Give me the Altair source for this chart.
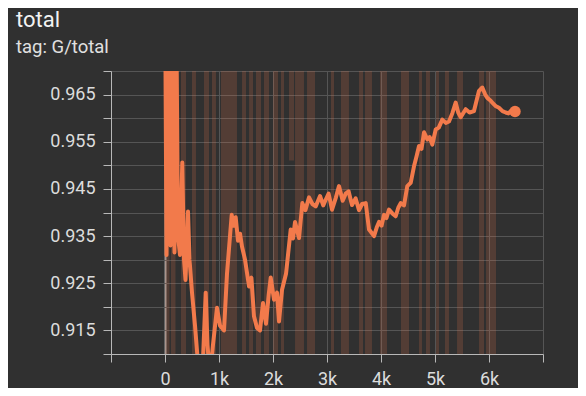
import altair as alt
import pandas as pd

# Smoothed series (step, value); values above 0.97 / below 0.91 are clipped
smooth_step = [0, 28, 56, 102, 130, 176, 204, 241, 278, 320, 352, 380, 426, 454, 500, 556, 611, 648,
               704, 754, 787, 833, 889, 963, 1019, 1093, 1148, 1235, 1270, 1309, 1352, 1390, 1426,
               1482, 1556, 1600, 1648, 1704, 1759, 1815, 1870, 1920, 1958, 2019, 2074, 2111, 2167,
               2241, 2328, 2370, 2408, 2482, 2543, 2600, 2667, 2730, 2791, 2871, 2930, 2976, 3030,
               3093, 3160, 3222, 3290, 3347, 3400, 3463, 3530, 3593, 3650, 3717, 3778, 3871, 3920,
               3963, 4010, 4056, 4100, 4148, 4210, 4272, 4320, 4365, 4426, 4487, 4550, 4611, 4660,
               4704, 4750, 4797, 4858, 4900, 4950, 5013, 5070, 5135, 5200, 5259, 5320, 5383, 5430,
               5476, 5568, 5640, 5722, 5815, 5876, 5930, 5969, 6020, 6061, 6120, 6185, 6250, 6310,
               6360, 6402, 6482]
smooth_value = [0.99, 0.931, 0.99, 0.933, 0.99, 0.9315, 0.99, 0.935, 0.931, 0.9506, 0.930, 0.9257,
                0.9402, 0.930, 0.923, 0.916, 0.908, 0.905, 0.909, 0.923, 0.912, 0.905, 0.912, 0.9198,
                0.916, 0.915, 0.927, 0.9395, 0.9372, 0.939, 0.934, 0.9355, 0.9328, 0.930, 0.9243,
                0.9262, 0.918, 0.9155, 0.915, 0.9208, 0.9164, 0.9225, 0.9262, 0.9215, 0.923, 0.9169,
                0.9236, 0.927, 0.9364, 0.9345, 0.938, 0.9346, 0.942, 0.9405, 0.9432, 0.9418, 0.9413,
                0.9435, 0.9415, 0.9427, 0.9440, 0.9406, 0.9430, 0.9456, 0.9425, 0.944, 0.9445, 0.9416,
                0.9430, 0.9405, 0.9418, 0.942, 0.9364, 0.935, 0.9368, 0.938, 0.9372, 0.9395, 0.9388,
                0.9406, 0.9398, 0.9392, 0.9410, 0.942, 0.9415, 0.9456, 0.9463, 0.9498, 0.9520, 0.9541,
                0.9535, 0.957, 0.9555, 0.9560, 0.9544, 0.9576, 0.9580, 0.9597, 0.9590, 0.9593, 0.9610,
                0.9633, 0.9612, 0.9602, 0.9619, 0.9612, 0.9615, 0.9658, 0.9665, 0.9650, 0.9643, 0.9638,
                0.9633, 0.9626, 0.9622, 0.9615, 0.9612, 0.9610, 0.9615, 0.9614]

# Raw series envelope: step ranges where the raw values swing beyond the visible range
band_start = [0, 111, 296, 500, 722, 870, 1037, 1426, 1556, 1685, 1833, 2000, 2148, 2296, 2408,
              2630, 3074, 3259, 3593, 3704, 3981, 4370, 4704, 4833, 5019, 5185, 5408, 5815, 5945]
band_end = [83, 194, 389, 574, 815, 944, 1333, 1500, 1630, 1778, 1926, 2093, 2204, 2389, 2574,
            2778, 3130, 3407, 3667, 3833, 4111, 4519, 4759, 4907, 5074, 5259, 5519, 5908, 6130]
band_lo = [0.85, 0.85, 0.85, 0.85, 0.85, 0.85, 0.85, 0.85, 0.85, 0.85, 0.85, 0.85, 0.85, 0.951, 0.85,
           0.85, 0.85, 0.85, 0.85, 0.85, 0.85, 0.85, 0.85, 0.85, 0.85, 0.85, 0.85, 0.85, 0.85]
band_hi = [1.05] * 29

x_ticks = [-1000, 0, 1000, 2000, 3000, 4000, 5000, 6000, 7000]
y_ticks = [0.91, 0.915, 0.92, 0.925, 0.93, 0.935, 0.94, 0.945, 0.95, 0.955, 0.96, 0.965, 0.97]

smooth = pd.DataFrame({"step": smooth_step, "value": smooth_value})
bands = pd.DataFrame({"start": band_start, "end": band_end, "lo": band_lo, "hi": band_hi})
last = smooth.tail(1)

ORANGE = "#f27a4b"

xscale = alt.Scale(domain=[-1000, 7000], nice=False, zero=False)
yscale = alt.Scale(domain=[0.91, 0.97], nice=False, zero=False)

xaxis = alt.Axis(
    values=x_ticks,
    labelExpr="datum.value < 0 || datum.value > 6500 ? '' : (datum.value == 0 ? '0' : (datum.value/1000) + 'k')",
    title=None,
    grid=True,
    gridColor={"condition": {"test": "datum.value === 0", "value": "#9a9a9a"}, "value": "#555555"},
    gridWidth={"condition": {"test": "datum.value === 0", "value": 2}, "value": 1},
    domainColor="#b8b8b8",
    tickColor="#b8b8b8",
    tickSize=8,
    labelPadding=8,
    labelColor="#dcdcdc",
    labelFont="Roboto",
    labelFontSize=18,
    labelFlush=False,
    labelOverlap=False,
)
yaxis = alt.Axis(
    values=y_ticks,
    labelExpr="(round(datum.value * 1000) % 10 === 5) ? format(datum.value, '.3f') : ''",
    title=None,
    grid=True,
    gridColor="#555555",
    domainColor="#b8b8b8",
    tickColor="#b8b8b8",
    tickSize=8,
    labelPadding=8,
    labelColor="#dcdcdc",
    labelFont="Roboto",
    labelFontSize=18,
    labelFlush=False,
    labelOverlap=False,
)

band_layer = alt.Chart(bands).mark_rect(clip=True, color=ORANGE, opacity=0.18).encode(
    x=alt.X("start:Q", scale=xscale, axis=xaxis),
    x2="end:Q",
    y=alt.Y("lo:Q", scale=yscale, axis=yaxis),
    y2="hi:Q",
)

line_layer = alt.Chart(smooth).mark_line(clip=True, color=ORANGE, strokeWidth=4,
                                          strokeJoin="round", strokeCap="round").encode(
    x=alt.X("step:Q", scale=xscale, axis=xaxis),
    y=alt.Y("value:Q", scale=yscale, axis=yaxis),
)

dot_layer = alt.Chart(last).mark_point(filled=True, color=ORANGE, opacity=1, size=130).encode(
    x=alt.X("step:Q", scale=xscale, axis=xaxis),
    y=alt.Y("value:Q", scale=yscale, axis=yaxis),
)

chart = alt.layer(band_layer, line_layer, dot_layer).properties(
    width=432,
    height=283,
    autosize=alt.AutoSizeParams(type="none"),
    padding={"left": 103, "top": 63, "right": 35, "bottom": 34},
    background="#303030",
    title=alt.TitleParams(
        text="total",
        subtitle="tag: G/total",
        anchor="start",
        frame="group",
        dx=-95,
        offset=5,
        font="Roboto",
        fontSize=22,
        fontWeight="normal",
        color="#f2f2f2",
        subtitleFont="Roboto",
        subtitleFontSize=18.5,
        subtitleColor="#e0e0e0",
        subtitlePadding=6,
    ),
).configure_view(stroke=None)

chart.save("out.html", embed_options={"renderer": "svg", "actions": False})
